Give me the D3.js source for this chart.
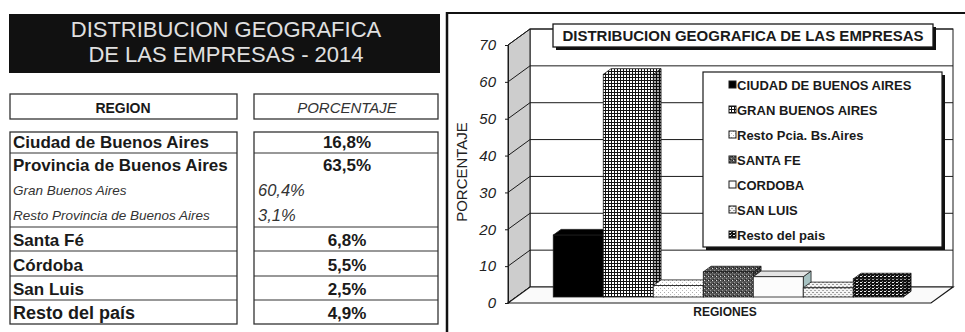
<!DOCTYPE html>
<html>
<head>
<meta charset="utf-8">
<script src="https://cdn.jsdelivr.net/npm/d3@7"></script>
<style>
body{margin:0;background:#fff;}
svg{display:block;font-family:"Liberation Sans",Arial,sans-serif;}
</style>
</head>
<body>
<svg id="chart" width="965" height="332"></svg>
<script>
// tabla
var tableTitle = ["DISTRIBUCION GEOGRAFICA", "DE LAS EMPRESAS - 2014"];
var tableHeader = ["REGION", "PORCENTAJE"];
var regions = ["Ciudad de Buenos Aires","Provincia de Buenos Aires","Gran Buenos Aires","Resto Provincia de Buenos Aires","Santa Fé","Córdoba","San Luis","Resto del país"];
var percents = ["16,8%","63,5%","60,4%","3,1%","6,8%","5,5%","2,5%","4,9%"];
var levels = [0,0,1,1,0,0,0,0];   // 1 = sub-item of the row above

// grafico
var chartTitle = "DISTRIBUCION GEOGRAFICA DE LAS EMPRESAS";
var seriesNames = ["CIUDAD DE BUENOS AIRES","GRAN BUENOS AIRES","Resto Pcia. Bs.Aires","SANTA FE","CORDOBA","SAN LUIS","Resto del pais"];
var seriesValues = [16.8, 60.4, 3.1, 6.8, 5.5, 2.5, 4.9];
var yTicks = [0,10,20,30,40,50,60,70];
var yLabel = "PORCENTAJE";
var xLabel = "REGIONES";

var svg = d3.select("#chart");
var ink = "#1a1a1a";

// ---------- left side: title + table ----------
svg.append("rect").attr("x",9).attr("y",14).attr("width",431).attr("height",59).attr("fill","#111");
svg.selectAll(".ttl").data(tableTitle).enter().append("text")
  .attr("x",226).attr("y",function(d,i){return 37+i*25;})
  .attr("text-anchor","middle").attr("fill","#e0e0e0")
  .style("font-size","22px").style("font-weight","500").text(function(d){return d;});

var colL = [10,237], colR = [254,438];
// header
[colL,colR].forEach(function(c){
  svg.append("rect").attr("x",c[0]).attr("y",94).attr("width",c[1]-c[0]).attr("height",25)
    .attr("fill","none").attr("stroke","#333").attr("stroke-width",1.3);
});
svg.append("text").attr("x",123).attr("y",113).attr("text-anchor","middle")
  .style("font-size","14px").style("font-weight","bold").attr("fill",ink).text(tableHeader[0]);
svg.append("text").attr("x",347).attr("y",113).attr("text-anchor","middle")
  .style("font-size","15px").style("font-style","italic").attr("fill","#333").text(tableHeader[1]);

// body rows
var rowEdges = [132,153,176,202,227,251,276,300,324];
[colL,colR].forEach(function(c){
  svg.append("rect").attr("x",c[0]).attr("y",rowEdges[0]).attr("width",c[1]-c[0])
    .attr("height",rowEdges[rowEdges.length-1]-rowEdges[0])
    .attr("fill","none").attr("stroke","#333").attr("stroke-width",1.3);
});
regions.forEach(function(r,i){
  var bottom = rowEdges[i+1];
  if(i>0 && levels[i]==0){
    [colL,colR].forEach(function(c){
      svg.append("line").attr("x1",c[0]).attr("x2",c[1]).attr("y1",rowEdges[i]).attr("y2",rowEdges[i])
        .attr("stroke","#333").attr("stroke-width",1.2);
    });
  }
  if(levels[i]==0){
    var fs = i==regions.length-1 ? "18px" : "17px";
    svg.append("text").attr("x",13).attr("y",bottom-5)
      .style("font-size",fs).style("font-weight","bold").attr("fill",ink).text(r);
    svg.append("text").attr("x",347).attr("y",bottom-5).attr("text-anchor","middle")
      .style("font-size","17px").style("font-weight","bold").attr("fill",ink).text(percents[i]);
  }else{
    svg.append("text").attr("x",13).attr("y",bottom-7)
      .style("font-size","13.5px").style("font-style","italic").attr("fill","#333").text(r);
    svg.append("text").attr("x",258).attr("y",bottom-6)
      .style("font-size","16.5px").style("font-style","italic").attr("fill","#333").text(percents[i]);
  }
});

// ---------- right side: 3D bar chart ----------
// frame
svg.append("line").attr("x1",447).attr("x2",447).attr("y1",12).attr("y2",332).attr("stroke","#111").attr("stroke-width",2.5);
svg.append("line").attr("x1",446).attr("x2",965).attr("y1",13).attr("y2",13).attr("stroke","#111").attr("stroke-width",2);

var defs = svg.append("defs");
function makePattern(id,w,h,bg,rects){
  var p = defs.append("pattern").attr("id",id).attr("patternUnits","userSpaceOnUse")
    .attr("width",w).attr("height",h);
  p.append("rect").attr("width",w).attr("height",h).attr("fill",bg);
  rects.forEach(function(r){
    p.append("rect").attr("x",r[0]).attr("y",r[1]).attr("width",r[2]).attr("height",r[3]).attr("fill",r[4]);
  });
}
makePattern("p0",4,4,"#000",[]);
makePattern("p1",3,3,"#111",[[0,0,2,2,"#fff"]]);
makePattern("p2",4,4,"#fff",[[0,0,1,1,"#aaa"],[2,2,1,1,"#bbb"]]);
makePattern("p3",4,4,"#555",[[0,0,1,1,"#ddd"],[2,2,1,1,"#999"],[3,0,1,1,"#222"],[1,3,1,1,"#222"]]);
makePattern("p4",4,4,"#fcfcfc",[]);
makePattern("p5",4,4,"#f4f4f4",[[0,0,2,1,"#999"],[2,2,2,1,"#aaa"]]);
makePattern("p6",4,3,"#111",[[0,0,2,1,"#eee"],[2,2,1,1,"#888"]]);
var fills = seriesNames.map(function(d,i){return "url(#p"+i+")";});

var y = d3.scaleLinear().domain([0,70]).range([303,45]);
var x = d3.scaleBand().domain(seriesNames).range([545,895]);
var DX = 22, DY = -16;           // depth of the plot box
var d0 = 0.375, d1 = 0.73;       // bar depth inside the box
var wallL = 508, wallR = 931;

var g = svg.append("g");
// back wall
g.append("rect").attr("x",wallL+DX).attr("y",y(70)+DY).attr("width",wallR-wallL)
  .attr("height",y(0)-y(70)).attr("fill","#fff").attr("stroke",ink).attr("stroke-width",1);
// left wall
g.append("polygon").attr("points",[[wallL,y(0)],[wallL,y(70)],[wallL+DX,y(70)+DY],[wallL+DX,y(0)+DY]].join(" "))
  .attr("fill","#cdcdcd").attr("stroke",ink).attr("stroke-width",1);
// grid
g.selectAll(".grid").data(yTicks.filter(function(t){return t>0;})).enter().append("line")
  .attr("x1",wallL+DX).attr("x2",wallR+DX).attr("y1",function(d){return y(d)+DY;}).attr("y2",function(d){return y(d)+DY;})
  .attr("stroke",ink).attr("stroke-width",1);
g.selectAll(".diag").data(yTicks).enter().append("line")
  .attr("x1",wallL).attr("x2",wallL+DX).attr("y1",function(d){return y(d);}).attr("y2",function(d){return y(d)+DY;})
  .attr("stroke",ink).attr("stroke-width",1);
// floor
g.append("polygon").attr("points",[[wallL,y(0)],[wallR,y(0)],[wallR+DX,y(0)+DY],[wallL+DX,y(0)+DY]].join(" "))
  .attr("fill","#fafafa").attr("stroke",ink).attr("stroke-width",1.2);

// y axis
var yAxis = d3.axisLeft(y).tickValues(yTicks).tickSize(3).tickPadding(9);
var ax = svg.append("g").attr("transform","translate("+wallL+",0)").call(yAxis);
ax.select(".domain").attr("stroke",ink);
ax.selectAll("line").attr("stroke",ink);
ax.selectAll("text").style("font-size","15px").style("font-style","italic")
  .style("font-family","\"Liberation Sans\",Arial,sans-serif").attr("fill","#222");

// bars
var bw = x.bandwidth();
var ddx = (d1-d0)*DX, ddy = (d1-d0)*DY;
seriesNames.forEach(function(name,i){
  var v = seriesValues[i];
  var fx = x(name)+d0*DX, fy = y(v)+d0*DY, fb = y(0)+d0*DY;
  var bar = g.append("g");
  var sideFill = i==4 ? "#a7c2c2" : fills[i];
  var topFill = i==4 ? "#e4e4e4" : fills[i];
  bar.append("polygon").attr("points",[[fx+bw,fy],[fx+bw+ddx,fy+ddy],[fx+bw+ddx,fb+ddy],[fx+bw,fb]].join(" "))
    .attr("fill",sideFill).attr("stroke",ink).attr("stroke-width",0.8);
  if(i!=4) bar.append("polygon").attr("points",[[fx+bw,fy],[fx+bw+ddx,fy+ddy],[fx+bw+ddx,fb+ddy],[fx+bw,fb]].join(" "))
    .attr("fill","#000").attr("opacity",0.35);
  bar.append("polygon").attr("points",[[fx,fy],[fx+bw,fy],[fx+bw+ddx,fy+ddy],[fx+ddx,fy+ddy]].join(" "))
    .attr("fill",topFill).attr("stroke",ink).attr("stroke-width",0.8);
  bar.append("rect").attr("x",fx).attr("y",fy).attr("width",bw).attr("height",fb-fy)
    .attr("fill",fills[i]).attr("stroke",ink).attr("stroke-width",0.8);
});

// chart title box
svg.append("rect").attr("x",556).attr("y",27).attr("width",380).attr("height",23).attr("fill","#111");
svg.append("rect").attr("x",553).attr("y",24).attr("width",380).attr("height",23).attr("fill","#fff").attr("stroke",ink).attr("stroke-width",1.3);
svg.append("text").attr("x",743).attr("y",41).attr("text-anchor","middle")
  .style("font-size","15px").style("font-weight","bold").attr("fill",ink).text(chartTitle);

// legend
svg.append("rect").attr("x",706).attr("y",75).attr("width",239).attr("height",175).attr("fill","#111");
svg.append("rect").attr("x",703).attr("y",72).attr("width",239).attr("height",175).attr("fill","#fff").attr("stroke",ink).attr("stroke-width",1.2);
var leg = svg.selectAll(".leg").data(seriesNames).enter().append("g")
  .attr("transform",function(d,i){return "translate(729,"+(85+i*25)+")";});
leg.append("rect").attr("x",0).attr("y",-4).attr("width",7).attr("height",7)
  .attr("fill",function(d,i){return fills[i];}).attr("stroke",ink).attr("stroke-width",1);
leg.append("text").attr("x",8).attr("y",4.5)
  .style("font-size","13px").style("font-weight","bold").attr("fill",ink).text(function(d){return d;});

// axis titles
svg.append("text").attr("transform","translate(467,172)rotate(-90)").attr("text-anchor","middle")
  .style("font-size","15px").attr("fill","#222").text(yLabel);
svg.append("text").attr("x",725).attr("y",316).attr("text-anchor","middle")
  .style("font-size","12px").style("font-weight","bold").attr("fill",ink).text(xLabel);
</script>
</body>
</html>
